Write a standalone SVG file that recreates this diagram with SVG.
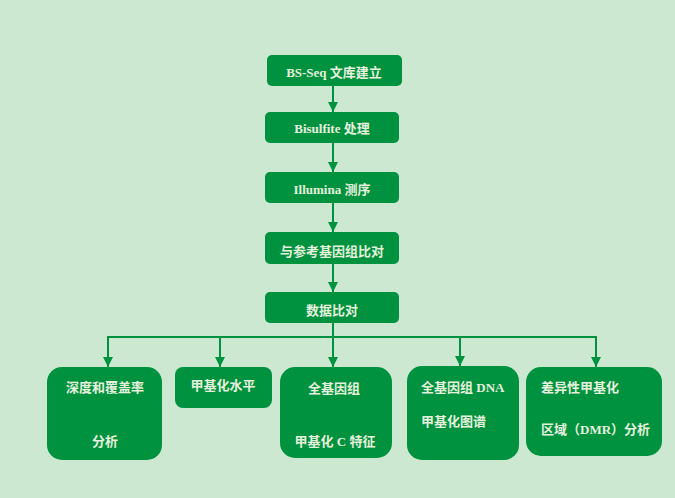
<svg xmlns="http://www.w3.org/2000/svg" width="675" height="498" viewBox="0 0 675 498">
<defs>
<marker id="ah" viewBox="0 0 10 10" refX="10" refY="5" markerWidth="5" markerHeight="5" markerUnits="strokeWidth" orient="auto">
<path d="M0,0 L10,5 L0,10 Z" fill="#00923F"/>
</marker>
<style>
.box{fill:#00923F;}
.t{font-family:"Liberation Serif","Noto Sans CJK SC",serif;font-weight:bold;font-size:13px;fill:#E6F0DC;}
.c{text-anchor:middle;}
.ln{stroke:#00923F;stroke-width:2;fill:none;}
</style>
</defs>
<rect width="675" height="498" fill="#CDE8D0"/>
<g id="connectors">
<line class="ln" x1="333" y1="86" x2="333" y2="112" marker-end="url(#ah)"/>
<line class="ln" x1="333" y1="143" x2="333" y2="172" marker-end="url(#ah)"/>
<line class="ln" x1="333" y1="203" x2="333" y2="232" marker-end="url(#ah)"/>
<line class="ln" x1="333" y1="264" x2="333" y2="292" marker-end="url(#ah)"/>
<line class="ln" x1="333" y1="323" x2="333" y2="337"/>
<line class="ln" x1="107" y1="337" x2="597" y2="337"/>
<line class="ln" x1="108" y1="337" x2="108" y2="367" marker-end="url(#ah)"/>
<line class="ln" x1="220" y1="337" x2="220" y2="367" marker-end="url(#ah)"/>
<line class="ln" x1="333" y1="337" x2="333" y2="367" marker-end="url(#ah)"/>
<line class="ln" x1="460" y1="337" x2="460" y2="366" marker-end="url(#ah)"/>
<line class="ln" x1="596" y1="337" x2="596" y2="367" marker-end="url(#ah)"/>
</g>
<g id="n1"><rect class="box" x="267" y="55" width="135" height="31" rx="5"/><text class="t c" x="334" y="77">BS-Seq 文库建立</text></g>
<g id="n2"><rect class="box" x="265" y="112" width="134" height="31" rx="5"/><text class="t c" x="332" y="133">Bisulfite 处理</text></g>
<g id="n3"><rect class="box" x="265" y="172" width="134" height="31" rx="5"/><text class="t c" x="332" y="194">Illumina 测序</text></g>
<g id="n4"><rect class="box" x="265" y="232" width="134" height="32" rx="5"/><text class="t c" x="332" y="256">与参考基因组比对</text></g>
<g id="n5"><rect class="box" x="265" y="292" width="134" height="31" rx="5"/><text class="t c" x="332" y="315">数据比对</text></g>
<g id="b1"><rect class="box" x="47" y="367" width="115" height="93" rx="15"/><text class="t c" x="105" y="392">深度和覆盖率</text><text class="t c" x="105" y="446">分析</text></g>
<g id="b2"><rect class="box" x="175" y="367" width="97" height="41" rx="8"/><text class="t c" x="223" y="390">甲基化水平</text></g>
<g id="b3"><rect class="box" x="280" y="367" width="112" height="91" rx="15"/><text class="t c" x="334" y="393">全基因组</text><text class="t c" x="335" y="446">甲基化 C 特征</text></g>
<g id="b4"><rect class="box" x="407" y="366" width="112" height="94" rx="15"/><text class="t" x="421" y="392">全基因组 DNA</text><text class="t" x="421" y="426">甲基化图谱</text></g>
<g id="b5"><rect class="box" x="526" y="367" width="136" height="89" rx="15"/><text class="t" x="541" y="392">差异性甲基化</text><text class="t" x="541" y="434">区域（DMR）分析</text></g>
</svg>
